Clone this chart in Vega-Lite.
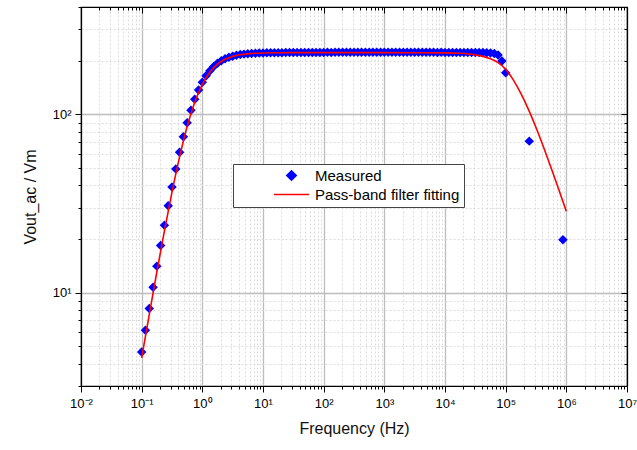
{
  "$schema": "https://vega.github.io/schema/vega-lite/v6.json",
  "width": 546,
  "height": 379,
  "autosize": {"type": "none"},
  "padding": {"left": 81, "top": 7, "right": 10, "bottom": 64},
  "background": "white",
  "config": {
    "font": "Liberation Sans",
    "view": {"stroke": "black", "strokeWidth": 1.2},
    "axis": {
      "labelFont": "Liberation Sans",
      "titleFont": "Liberation Sans",
      "labelFontSize": 13,
      "titleFontSize": 16,
      "titleFontWeight": "normal",
      "labelColor": "black",
      "titleColor": "#111111",
      "domainColor": "black",
      "domainWidth": 1.2,
      "tickColor": "black",
      "tickWidth": 1,
      "labelFlush": false,
      "labelOverlap": false,
      "labelBound": false
    },
    "legend": {
      "title": null,
      "orient": "none",
      "legendX": 152,
      "legendY": 157,
      "fillColor": "white",
      "strokeColor": "#444444",
      "padding": 4,
      "symbolOffset": 47,
      "symbolSize": 90,
      "labelOffset": 16,
      "rowPadding": 3,
      "labelFont": "Liberation Sans",
      "labelFontSize": 15,
      "labelColor": "black",
      "labelLimit": 400
    }
  },
  "datasets": {
    "measured": [
      {"f": 0.1, "v": 4.66, "series": "Measured"},
      {"f": 0.1155, "v": 6.17, "series": "Measured"},
      {"f": 0.1334, "v": 8.15, "series": "Measured"},
      {"f": 0.154, "v": 10.74, "series": "Measured"},
      {"f": 0.1778, "v": 14.1, "series": "Measured"},
      {"f": 0.2054, "v": 18.41, "series": "Measured"},
      {"f": 0.2371, "v": 23.89, "series": "Measured"},
      {"f": 0.2738, "v": 30.75, "series": "Measured"},
      {"f": 0.3162, "v": 39.19, "series": "Measured"},
      {"f": 0.3652, "v": 49.36, "series": "Measured"},
      {"f": 0.4217, "v": 61.28, "series": "Measured"},
      {"f": 0.487, "v": 74.83, "series": "Measured"},
      {"f": 0.5623, "v": 89.71, "series": "Measured"},
      {"f": 0.6494, "v": 105.4, "series": "Measured"},
      {"f": 0.7499, "v": 121.4, "series": "Measured"},
      {"f": 0.866, "v": 136.9, "series": "Measured"},
      {"f": 1, "v": 151.4, "series": "Measured"},
      {"f": 1.155, "v": 164.5, "series": "Measured"},
      {"f": 1.334, "v": 175.9, "series": "Measured"},
      {"f": 1.54, "v": 185.5, "series": "Measured"},
      {"f": 1.778, "v": 193.5, "series": "Measured"},
      {"f": 2.054, "v": 199.9, "series": "Measured"},
      {"f": 2.371, "v": 205.0, "series": "Measured"},
      {"f": 2.738, "v": 208.9, "series": "Measured"},
      {"f": 3.162, "v": 212.1, "series": "Measured"},
      {"f": 3.652, "v": 214.5, "series": "Measured"},
      {"f": 4.217, "v": 216.5, "series": "Measured"},
      {"f": 4.87, "v": 217.7, "series": "Measured"},
      {"f": 5.623, "v": 218.8, "series": "Measured"},
      {"f": 6.494, "v": 219.6, "series": "Measured"},
      {"f": 7.499, "v": 220.2, "series": "Measured"},
      {"f": 8.66, "v": 220.6, "series": "Measured"},
      {"f": 10, "v": 221.0, "series": "Measured"},
      {"f": 11.55, "v": 221.3, "series": "Measured"},
      {"f": 13.34, "v": 221.5, "series": "Measured"},
      {"f": 15.4, "v": 221.7, "series": "Measured"},
      {"f": 17.78, "v": 221.8, "series": "Measured"},
      {"f": 20.54, "v": 221.9, "series": "Measured"},
      {"f": 23.71, "v": 222.0, "series": "Measured"},
      {"f": 27.38, "v": 222.2, "series": "Measured"},
      {"f": 31.62, "v": 222.1, "series": "Measured"},
      {"f": 36.52, "v": 222.3, "series": "Measured"},
      {"f": 42.17, "v": 222.2, "series": "Measured"},
      {"f": 48.7, "v": 222.4, "series": "Measured"},
      {"f": 56.23, "v": 222.3, "series": "Measured"},
      {"f": 64.94, "v": 222.5, "series": "Measured"},
      {"f": 74.99, "v": 222.4, "series": "Measured"},
      {"f": 86.6, "v": 222.6, "series": "Measured"},
      {"f": 100, "v": 222.5, "series": "Measured"},
      {"f": 115.5, "v": 222.7, "series": "Measured"},
      {"f": 133.4, "v": 222.6, "series": "Measured"},
      {"f": 154, "v": 222.8, "series": "Measured"},
      {"f": 177.8, "v": 222.7, "series": "Measured"},
      {"f": 205.4, "v": 222.9, "series": "Measured"},
      {"f": 237.1, "v": 222.8, "series": "Measured"},
      {"f": 273.8, "v": 223.0, "series": "Measured"},
      {"f": 316.2, "v": 222.9, "series": "Measured"},
      {"f": 365.2, "v": 223.0, "series": "Measured"},
      {"f": 421.7, "v": 223.1, "series": "Measured"},
      {"f": 487, "v": 223.0, "series": "Measured"},
      {"f": 562.3, "v": 223.1, "series": "Measured"},
      {"f": 649.4, "v": 223.0, "series": "Measured"},
      {"f": 749.9, "v": 223.2, "series": "Measured"},
      {"f": 866, "v": 223.1, "series": "Measured"},
      {"f": 1000, "v": 223.0, "series": "Measured"},
      {"f": 1155, "v": 223.1, "series": "Measured"},
      {"f": 1334, "v": 223.0, "series": "Measured"},
      {"f": 1540, "v": 223.1, "series": "Measured"},
      {"f": 1778, "v": 223.0, "series": "Measured"},
      {"f": 2054, "v": 222.9, "series": "Measured"},
      {"f": 2371, "v": 223.0, "series": "Measured"},
      {"f": 2738, "v": 222.9, "series": "Measured"},
      {"f": 3162, "v": 222.8, "series": "Measured"},
      {"f": 3652, "v": 222.9, "series": "Measured"},
      {"f": 4217, "v": 222.8, "series": "Measured"},
      {"f": 4870, "v": 222.7, "series": "Measured"},
      {"f": 5623, "v": 222.8, "series": "Measured"},
      {"f": 6494, "v": 222.7, "series": "Measured"},
      {"f": 7499, "v": 222.6, "series": "Measured"},
      {"f": 8660, "v": 222.7, "series": "Measured"},
      {"f": 10000, "v": 222.6, "series": "Measured"},
      {"f": 11550, "v": 222.5, "series": "Measured"},
      {"f": 13340, "v": 222.6, "series": "Measured"},
      {"f": 15400, "v": 222.5, "series": "Measured"},
      {"f": 17780, "v": 222.4, "series": "Measured"},
      {"f": 20540, "v": 222.5, "series": "Measured"},
      {"f": 23710, "v": 222.4, "series": "Measured"},
      {"f": 27380, "v": 222.3, "series": "Measured"},
      {"f": 31620, "v": 222.4, "series": "Measured"},
      {"f": 36520, "v": 222.3, "series": "Measured"},
      {"f": 42170, "v": 222.1, "series": "Measured"},
      {"f": 48700, "v": 221.8, "series": "Measured"},
      {"f": 56230, "v": 221.0, "series": "Measured"},
      {"f": 64940, "v": 219.5, "series": "Measured"},
      {"f": 74990, "v": 215.5, "series": "Measured"},
      {"f": 86600, "v": 199, "series": "Measured"},
      {"f": 100000, "v": 171, "series": "Measured"},
      {"f": 245000, "v": 70.8, "series": "Measured"},
      {"f": 880000, "v": 19.8, "series": "Measured"}
    ],
    "fit": [
      {"f": 0.1, "v": 4.31, "series": "Pass-band filter fitting"},
      {"f": 0.1334, "v": 7.54, "series": "Pass-band filter fitting"},
      {"f": 0.1778, "v": 13.07, "series": "Pass-band filter fitting"},
      {"f": 0.2371, "v": 22.22, "series": "Pass-band filter fitting"},
      {"f": 0.3162, "v": 36.66, "series": "Pass-band filter fitting"},
      {"f": 0.4217, "v": 57.76, "series": "Pass-band filter fitting"},
      {"f": 0.5623, "v": 85.42, "series": "Pass-band filter fitting"},
      {"f": 0.7499, "v": 116.9, "series": "Pass-band filter fitting"},
      {"f": 1, "v": 147.5, "series": "Pass-band filter fitting"},
      {"f": 1.334, "v": 172.9, "series": "Pass-band filter fitting"},
      {"f": 1.778, "v": 191.4, "series": "Pass-band filter fitting"},
      {"f": 2.371, "v": 203.7, "series": "Pass-band filter fitting"},
      {"f": 3.162, "v": 211.3, "series": "Pass-band filter fitting"},
      {"f": 4.217, "v": 215.9, "series": "Pass-band filter fitting"},
      {"f": 5.623, "v": 218.5, "series": "Pass-band filter fitting"},
      {"f": 7.499, "v": 220.0, "series": "Pass-band filter fitting"},
      {"f": 10, "v": 220.9, "series": "Pass-band filter fitting"},
      {"f": 17.78, "v": 221.6, "series": "Pass-band filter fitting"},
      {"f": 31.62, "v": 221.9, "series": "Pass-band filter fitting"},
      {"f": 100, "v": 222, "series": "Pass-band filter fitting"},
      {"f": 1000, "v": 222, "series": "Pass-band filter fitting"},
      {"f": 10000, "v": 221.3, "series": "Pass-band filter fitting"},
      {"f": 17780, "v": 220.0, "series": "Pass-band filter fitting"},
      {"f": 31620, "v": 215.7, "series": "Pass-band filter fitting"},
      {"f": 42170, "v": 211.5, "series": "Pass-band filter fitting"},
      {"f": 56230, "v": 205, "series": "Pass-band filter fitting"},
      {"f": 74990, "v": 195, "series": "Pass-band filter fitting"},
      {"f": 100000, "v": 179, "series": "Pass-band filter fitting"},
      {"f": 133400, "v": 156, "series": "Pass-band filter fitting"},
      {"f": 177800, "v": 131.0, "series": "Pass-band filter fitting"},
      {"f": 237100, "v": 106.7, "series": "Pass-band filter fitting"},
      {"f": 316200, "v": 84.4, "series": "Pass-band filter fitting"},
      {"f": 421700, "v": 65.4, "series": "Pass-band filter fitting"},
      {"f": 562300, "v": 50.0, "series": "Pass-band filter fitting"},
      {"f": 749900, "v": 37.9, "series": "Pass-band filter fitting"},
      {"f": 1000000, "v": 28.6, "series": "Pass-band filter fitting"}
    ]
  },
  "layer": [
    {
      "data": {"name": "measured"},
      "mark": {"type": "point", "filled": true, "size": 90, "opacity": 1},
      "encoding": {
        "x": {
          "field": "f", "type": "quantitative",
          "scale": {"type": "log", "domain": [0.01, 10000000], "nice": false},
          "axis": {
            "orient": "bottom",
            "title": "Frequency (Hz)",
            "titlePadding": 10,
            "labelPadding": 5,
            "values": [0.01,0.02,0.03,0.04,0.05,0.06,0.07,0.08,0.09,0.1,0.2,0.3,0.4,0.5,0.6,0.7,0.8,0.9,1,2,3,4,5,6,7,8,9,10,20,30,40,50,60,70,80,90,100,200,300,400,500,600,700,800,900,1000,2000,3000,4000,5000,6000,7000,8000,9000,10000,20000,30000,40000,50000,60000,70000,80000,90000,100000,200000,300000,400000,500000,600000,700000,800000,900000,1000000,2000000,3000000,4000000,5000000,6000000,7000000,8000000,9000000,10000000],
            "labelExpr": "abs(log(datum.value)/LN10 - round(log(datum.value)/LN10)) < 0.001 ? '10' + ['⁻²','⁻¹','⁰','¹','²','³','⁴','⁵','⁶','⁷'][round(log(datum.value)/LN10)+2] : ''",
            "grid": true,
            "gridColor": {"condition": {"test": "abs(log(datum.value)/LN10 - round(log(datum.value)/LN10)) < 0.001", "value": "#BDBDBD"}, "value": "#DCDCDC"},
            "gridDash": {"condition": {"test": "abs(log(datum.value)/LN10 - round(log(datum.value)/LN10)) < 0.001", "value": []}, "value": [2, 2]},
            "gridWidth": {"condition": {"test": "abs(log(datum.value)/LN10 - round(log(datum.value)/LN10)) < 0.001", "value": 1.3}, "value": 1},
            "tickSize": {"condition": {"test": "abs(log(datum.value)/LN10 - round(log(datum.value)/LN10)) < 0.001", "value": 6}, "value": 3}
          }
        },
        "y": {
          "field": "v", "type": "quantitative",
          "scale": {"type": "log", "domain": [3, 400], "nice": false},
          "axis": {
            "orient": "left",
            "title": "Vout_ac / Vm",
            "titlePadding": 14,
            "labelPadding": 4,
            "values": [3,4,5,6,7,8,9,10,20,30,40,50,60,70,80,90,100,200,300,400],
            "labelExpr": "abs(log(datum.value)/LN10 - round(log(datum.value)/LN10)) < 0.001 ? '10' + ['⁻²','⁻¹','⁰','¹','²','³','⁴','⁵','⁶','⁷'][round(log(datum.value)/LN10)+2] : ''",
            "grid": true,
            "gridColor": {"condition": {"test": "abs(log(datum.value)/LN10 - round(log(datum.value)/LN10)) < 0.001", "value": "#BDBDBD"}, "value": "#DCDCDC"},
            "gridDash": {"condition": {"test": "abs(log(datum.value)/LN10 - round(log(datum.value)/LN10)) < 0.001", "value": []}, "value": [2, 2]},
            "gridWidth": {"condition": {"test": "abs(log(datum.value)/LN10 - round(log(datum.value)/LN10)) < 0.001", "value": 1.3}, "value": 1},
            "tickSize": {"condition": {"test": "abs(log(datum.value)/LN10 - round(log(datum.value)/LN10)) < 0.001", "value": 6}, "value": 3}
          }
        },
        "color": {
          "field": "series", "type": "nominal",
          "scale": {"domain": ["Measured", "Pass-band filter fitting"], "range": ["#0000FF", "#FF0000"]},
          "legend": {
            "encode": {
              "symbols": {
                "update": {
                  "fill": {"signal": "datum.value === 'Measured' ? '#0000FF' : 'transparent'"},
                  "stroke": {"signal": "datum.value === 'Measured' ? 'transparent' : '#FF0000'"},
                  "strokeWidth": {"value": 1.6},
                  "opacity": {"value": 1}
                }
              }
            }
          }
        },
        "shape": {
          "field": "series", "type": "nominal",
          "scale": {"domain": ["Measured", "Pass-band filter fitting"], "range": ["diamond", "M-3.7,0L3.7,0"]},
          "legend": {
            "encode": {
              "symbols": {
                "update": {
                  "fill": {"signal": "datum.value === 'Measured' ? '#0000FF' : 'transparent'"},
                  "stroke": {"signal": "datum.value === 'Measured' ? 'transparent' : '#FF0000'"},
                  "strokeWidth": {"value": 1.6},
                  "opacity": {"value": 1}
                }
              }
            }
          }
        }
      }
    },
    {
      "data": {"name": "fit"},
      "mark": {"type": "line", "strokeWidth": 1.6, "interpolate": "monotone"},
      "encoding": {
        "x": {
          "field": "f", "type": "quantitative",
          "scale": {"type": "log", "domain": [0.01, 10000000], "nice": false},
          "axis": {
            "orient": "top",
            "title": null,
            "labels": false,
            "grid": false,
            "values": [0.01,0.02,0.03,0.04,0.05,0.06,0.07,0.08,0.09,0.1,0.2,0.3,0.4,0.5,0.6,0.7,0.8,0.9,1,2,3,4,5,6,7,8,9,10,20,30,40,50,60,70,80,90,100,200,300,400,500,600,700,800,900,1000,2000,3000,4000,5000,6000,7000,8000,9000,10000,20000,30000,40000,50000,60000,70000,80000,90000,100000,200000,300000,400000,500000,600000,700000,800000,900000,1000000,2000000,3000000,4000000,5000000,6000000,7000000,8000000,9000000,10000000],
            "tickSize": {"condition": {"test": "abs(log(datum.value)/LN10 - round(log(datum.value)/LN10)) < 0.001", "value": -6}, "value": -3}
          }
        },
        "y": {
          "field": "v", "type": "quantitative",
          "scale": {"type": "log", "domain": [3, 400], "nice": false},
          "axis": {
            "orient": "right",
            "title": null,
            "labels": false,
            "grid": false,
            "values": [3,4,5,6,7,8,9,10,20,30,40,50,60,70,80,90,100,200,300,400],
            "tickSize": {"condition": {"test": "abs(log(datum.value)/LN10 - round(log(datum.value)/LN10)) < 0.001", "value": -6}, "value": -3}
          }
        },
        "color": {
          "field": "series", "type": "nominal",
          "scale": {"domain": ["Measured", "Pass-band filter fitting"], "range": ["#0000FF", "#FF0000"]},
          "legend": null
        }
      }
    }
  ],
  "resolve": {"axis": {"x": "independent", "y": "independent"}}
}
